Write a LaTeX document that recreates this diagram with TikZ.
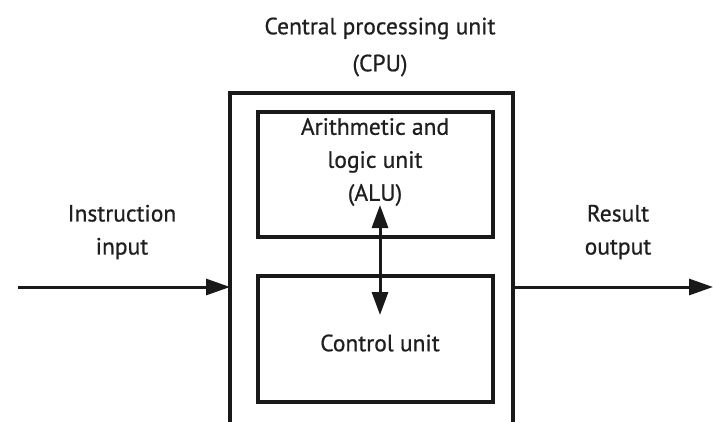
\documentclass[tikz,border=0pt]{standalone}
\usepackage{fontspec}
\setmainfont[FakeBold=0.7]{PT Sans}
\usetikzlibrary{arrows.meta}
\begin{document}
\begin{tikzpicture}[x=1pt,y=-1pt,
  box/.style={draw=black!90,line width=3.2pt},
  lbl/.style={align=center,font=\fontsize{23.5}{33}\selectfont,inner sep=0pt,text=black!88},
  arr/.style={draw=black!90,line width=3pt,-{Triangle[length=24pt,width=16pt]}},
  darr/.style={draw=black!90,line width=3pt,{Triangle[length=23pt,width=16pt]}-{Triangle[length=23pt,width=16pt]}}]
\useasboundingbox (0,0) rectangle (713,421);
% outer CPU box (bottom cut off)
\coordinate (cpuBL) at (230,425);
\coordinate (cpuTL) at (230,93);
\coordinate (cpuTR) at (513,93);
\coordinate (cpuBR) at (513,425);
\draw[box] (cpuBL) -- (cpuTL) -- (cpuTR) -- (cpuBR);
\node[lbl,font=\fontsize{23.5}{37}\selectfont] (cpulbl) at (380,47) {Central processing unit\\(CPU)};
% ALU
\node[box,minimum width=235pt,minimum height=125pt,inner sep=0pt] (alu) at (375.5,174.5) {};
\node[lbl] (alulbl) at (375,162) {Arithmetic and\\logic unit\\(ALU)};
% Control unit
\node[box,minimum width=235pt,minimum height=126pt,inner sep=0pt] (cu) at (375.5,339) {};
\node[lbl] (culbl) at (380,343) {Control unit};
% double arrow
\coordinate (da) at (380,205);
\coordinate (db) at (380,315);
\draw[darr] (da) -- (db);
% input / output
\coordinate (inS) at (18,287);
\coordinate (inE) at (230,287);
\coordinate (outS) at (513,287);
\coordinate (outE) at (713,287);
\draw[arr] (inS) -- (inE);
\draw[arr] (outS) -- (outE);
\node[lbl] (inlbl) at (122,232) {Instruction\\input};
\node[lbl] (outlbl) at (618,232) {Result\\output};
\end{tikzpicture}
\end{document}
